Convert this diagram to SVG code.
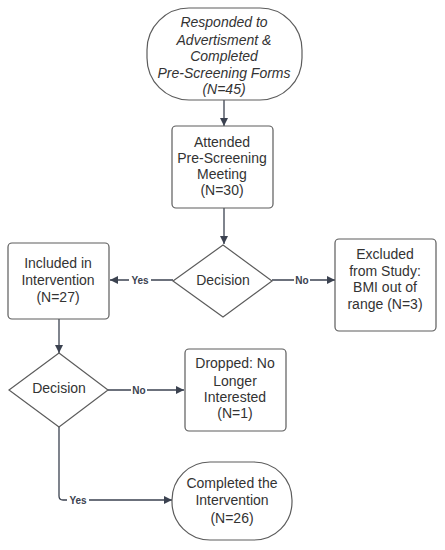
<svg xmlns="http://www.w3.org/2000/svg" width="445" height="550" viewBox="0 0 445 550">
<style>
.node{fill:#fff;stroke:#5c5c5c;stroke-width:1.2}
.t{font-family:"Liberation Sans",Arial,sans-serif;font-size:14px;fill:#333;text-anchor:middle}
.it{font-style:italic}
.c{fill:none;stroke:#3b4250;stroke-width:1.3}
.lbl{font-family:"Liberation Sans",Arial,sans-serif;font-size:10px;font-weight:bold;fill:#3b4250;text-anchor:middle}
.bg{fill:#fff}
</style>
<defs>
<marker id="ah" viewBox="0 0 10 10" refX="10" refY="5" markerWidth="8" markerHeight="8" markerUnits="userSpaceOnUse" orient="auto">
<path d="M0,0 L10,5 L0,10 z" fill="#3b4250"/>
</marker>
</defs>
<rect width="445" height="550" fill="#fff"/>
<g id="connectors">
<line class="c" x1="224" y1="100" x2="224" y2="126" marker-end="url(#ah)"/>
<line class="c" x1="224" y1="208" x2="224" y2="244" marker-end="url(#ah)"/>
<line class="c" x1="173" y1="280" x2="110" y2="280" marker-end="url(#ah)"/>
<rect class="bg" x="129" y="274" width="22" height="12"/>
<text class="lbl" x="140" y="284">Yes</text>
<line class="c" x1="272" y1="280" x2="335" y2="280" marker-end="url(#ah)"/>
<rect class="bg" x="294" y="274" width="16" height="12"/>
<text class="lbl" x="302" y="284">No</text>
<line class="c" x1="59" y1="319" x2="59" y2="353" marker-end="url(#ah)"/>
<line class="c" x1="108" y1="390" x2="184" y2="390" marker-end="url(#ah)"/>
<rect class="bg" x="131" y="384" width="16" height="12"/>
<text class="lbl" x="139" y="394">No</text>
<path class="c" d="M59,427 V496 Q59,500 63,500 H172" marker-end="url(#ah)"/>
<rect class="bg" x="67" y="494" width="22" height="12"/>
<text class="lbl" x="78" y="504">Yes</text>
</g>
<g id="n1">
<rect class="node" x="147" y="8" width="155" height="92" rx="42" ry="42"/>
<text class="t it" x="224" y="27">Responded to</text>
<text class="t it" x="224" y="45">Advertisment &amp;</text>
<text class="t it" x="224" y="61">Completed</text>
<text class="t it" x="224" y="78">Pre-Screening Forms</text>
<text class="t it" x="224" y="94">(N=45)</text>
</g>
<g id="n2">
<rect class="node" x="172" y="126" width="101" height="82" rx="4"/>
<text class="t" x="222" y="147">Attended</text>
<text class="t" x="222" y="163">Pre-Screening</text>
<text class="t" x="222" y="179">Meeting</text>
<text class="t" x="222" y="195">(N=30)</text>
</g>
<g id="d1">
<polygon class="node" points="223,245 272,281 223,317 173,281"/>
<text class="t" x="223" y="285">Decision</text>
</g>
<g id="n3">
<rect class="node" x="8" y="243" width="101" height="76" rx="4"/>
<text class="t" x="58" y="268">Included in</text>
<text class="t" x="58" y="285">Intervention</text>
<text class="t" x="58" y="302">(N=27)</text>
</g>
<g id="n4">
<rect class="node" x="335" y="239" width="101" height="92" rx="4"/>
<text class="t" x="385" y="259">Excluded</text>
<text class="t" x="385" y="276">from Study:</text>
<text class="t" x="385" y="292">BMI out of</text>
<text class="t" x="385" y="309">range (N=3)</text>
</g>
<g id="d2">
<polygon class="node" points="59,353 108,390 59,427 9,390"/>
<text class="t" x="59" y="393">Decision</text>
</g>
<g id="n5">
<rect class="node" x="185" y="349" width="101" height="82" rx="4"/>
<text class="t" x="235" y="368">Dropped: No</text>
<text class="t" x="235" y="386">Longer</text>
<text class="t" x="235" y="402">Interested</text>
<text class="t" x="235" y="418">(N=1)</text>
</g>
<g id="n6">
<rect class="node" x="172" y="462" width="120" height="78" rx="38" ry="38"/>
<text class="t" x="232" y="488">Completed the</text>
<text class="t" x="232" y="505">Intervention</text>
<text class="t" x="232" y="523">(N=26)</text>
</g>
</svg>
